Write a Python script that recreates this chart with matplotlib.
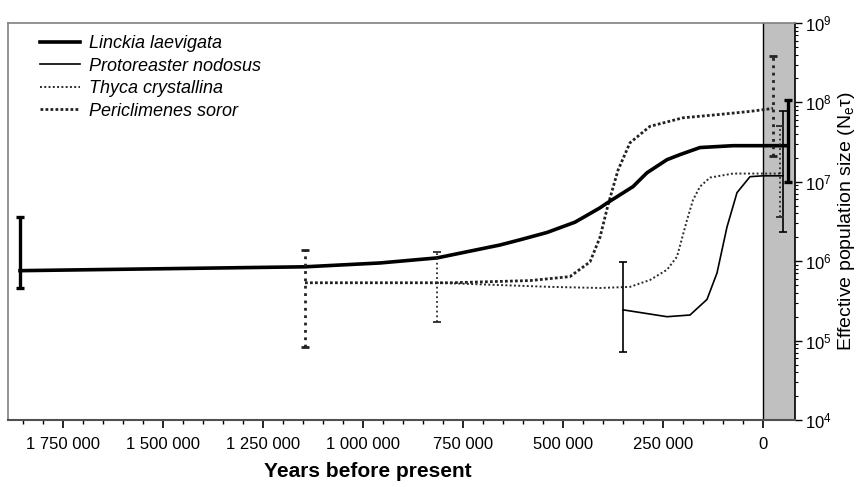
import math
import matplotlib
matplotlib.use('Agg')
import matplotlib.pyplot as plt
from matplotlib.ticker import FixedLocator, FuncFormatter, LogLocator, NullFormatter

plt.rcParams['font.family'] = ['Liberation Sans', 'DejaVu Sans']
plt.rcParams['mathtext.default'] = 'regular'

# years before present  /  effective population size (Ne*tau)
linckia_years = [1857500, 1145000, 957500, 815000, 657500, 607500, 540000, 470000, 407500,
                 390000, 325000, 290000, 240000, 207500, 157500, 75000, 0, -62500]
linckia_ne = [7.6e5, 8.5e5, 9.5e5, 1.1e6, 1.6e6, 1.86e6, 2.3e6, 3.1e6, 4.7e6,
              5.4e6, 8.7e6, 1.3e7, 1.9e7, 2.2e7, 2.7e7, 2.85e7, 2.85e7, 2.85e7]

proto_years = [350000, 240000, 182500, 140000, 115000, 90000, 65000, 32500, 0, -50000]
proto_ne = [2.44e5, 2.0e5, 2.1e5, 3.3e5, 7.1e5, 2.7e6, 7.3e6, 1.16e7, 1.19e7, 1.19e7]

thyca_years = [815000, 532500, 407500, 332500, 282500, 240000, 215000, 190000,
               175000, 157500, 132500, 75000, 0, -42500]
thyca_ne = [5.35e5, 4.75e5, 4.6e5, 4.75e5, 5.8e5, 7.8e5, 1.14e6, 3.3e6,
            5.9e6, 8.7e6, 1.13e7, 1.27e7, 1.27e7, 1.27e7]

peric_years = [1145000, 782500, 582500, 482500, 432500, 407500, 387500, 362500,
               332500, 282500, 200000, 115000, 32500, -25000]
peric_ne = [5.35e5, 5.35e5, 5.7e5, 6.4e5, 9.8e5, 2.0e6, 5.1e6, 1.4e7,
            3.1e7, 5.0e7, 6.4e7, 7.0e7, 7.7e7, 8.4e7]

# error bars: position, lower, upper
linckia_err_years = [1857500, -62500]
linckia_err_lo = [4.6e5, 9.8e6]
linckia_err_hi = [3.6e6, 1.08e8]

proto_err_years = [350000, -50000]
proto_err_lo = [7.2e4, 2.3e6]
proto_err_hi = [9.8e5, 7.7e7]

thyca_err_years = [815000, -42500]
thyca_err_lo = [1.7e5, 3.6e6]
thyca_err_hi = [1.3e6, 5.0e7]

peric_err_years = [1145000, -25000]
peric_err_lo = [8.3e4, 2.1e7]
peric_err_hi = [1.4e6, 3.8e8]

x_left = 1887500
x_right = -80000

fig = plt.figure(figsize=(8.57, 4.87), dpi=100)
ax = fig.add_axes([8 / 857, 67 / 487, 787 / 857, 397 / 487])

ax.axvspan(0, x_right, facecolor='#c0c0c0', edgecolor='none', zorder=0)
ax.axvline(0, color='black', lw=1.0, zorder=1)

ax.plot(linckia_years, linckia_ne, color='black', lw=2.6, label='Linckia laevigata', zorder=4)
ax.plot(proto_years, proto_ne, color='black', lw=1.2, label='Protoreaster nodosus', zorder=4)
ax.plot(thyca_years, thyca_ne, color='#2a2a2a', lw=1.4, ls=(0, (1, 1.2)),
        label='Thyca crystallina', zorder=3)
ax.plot(peric_years, peric_ne, color='#222222', lw=2.0, ls=(0, (1, 0.8)),
        label='Periclimenes soror', zorder=3)


def err(xs, lo, hi, lw, ls, color):
    up = [h - l for h, l in zip(hi, lo)]
    eb = ax.errorbar(xs, lo, yerr=[[0] * len(lo), up], fmt='none', ecolor=color,
                     elinewidth=lw, capsize=3, capthick=lw, zorder=5)
    eb[2][0].set_linestyle(ls)


err(linckia_err_years, linckia_err_lo, linckia_err_hi, 2.4, '-', 'black')
err(proto_err_years, proto_err_lo, proto_err_hi, 1.2, '-', 'black')
err(thyca_err_years, thyca_err_lo, thyca_err_hi, 1.3, ':', '#2a2a2a')
err(peric_err_years, peric_err_lo, peric_err_hi, 2.0, ':', '#222222')

ax.set_xlim(x_left, x_right)
ax.set_yscale('log')
ax.set_ylim(1e4, 1e9)

ax.xaxis.set_major_locator(FixedLocator([i * 250000 for i in range(8)]))
ax.xaxis.set_minor_locator(FixedLocator([i * 50000 for i in range(38)]))
ax.xaxis.set_major_formatter(FuncFormatter(lambda v, p: f'{int(round(v)):,}'.replace(',', ' ')))
ax.tick_params(axis='x', which='major', direction='out', length=6, width=1.2, labelsize=12, pad=6)
ax.tick_params(axis='x', which='minor', direction='out', length=3, width=1.0)

ax.yaxis.tick_right()
ax.yaxis.set_label_position('right')
ax.yaxis.set_major_locator(LogLocator(base=10, numticks=10))
ax.yaxis.set_minor_locator(LogLocator(base=10, subs=[2, 3, 4, 5, 6, 7, 8, 9], numticks=20))
ax.yaxis.set_minor_formatter(NullFormatter())
ax.yaxis.set_major_formatter(FuncFormatter(lambda v, p: '10$^{%d}$' % round(math.log10(v))))
ax.tick_params(axis='y', which='major', direction='out', length=5, width=1.0, labelsize=12, pad=2)
ax.tick_params(axis='y', which='minor', direction='out', length=2.5, width=0.8)

for side in ['left', 'top']:
    ax.spines[side].set_color('#808080')
    ax.spines[side].set_linewidth(1.2)
ax.spines['bottom'].set_color('#505050')
ax.spines['bottom'].set_linewidth(1.5)
ax.spines['right'].set_color('black')
ax.spines['right'].set_linewidth(1.2)

ax.set_xlabel('Years before present', fontweight='bold', fontsize=15)
ax.xaxis.set_label_coords(0.457, -0.105)
ax.set_ylabel(r'Effective population size (N$_e\tau$)', fontsize=14, labelpad=3)

ax.legend(loc='upper left', bbox_to_anchor=(0.02, 1.01), frameon=False,
          prop={'style': 'italic', 'size': 13},
          handlelength=2.2, handletextpad=0.5, labelspacing=0.3)

fig.savefig('out.png', dpi=100)
